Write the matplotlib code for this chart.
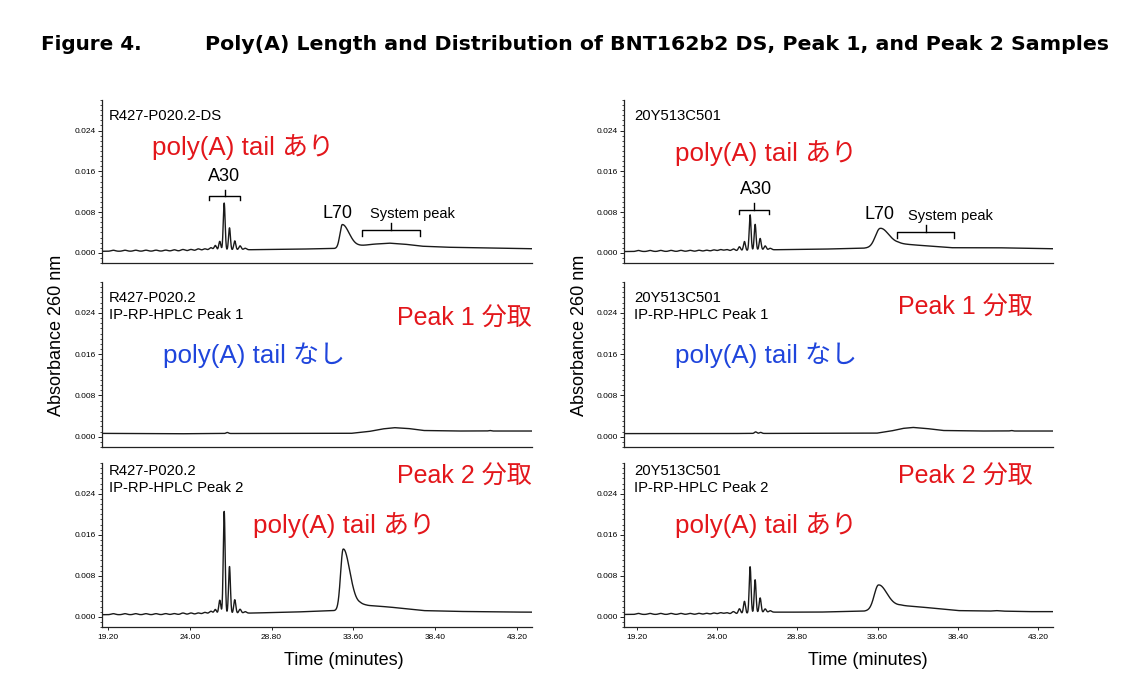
import numpy as np
import matplotlib
matplotlib.use("Agg")
import matplotlib.pyplot as plt
from matplotlib.ticker import MultipleLocator, FixedLocator

plt.rcParams['font.family'] = ['Liberation Sans', 'Noto Sans CJK JP', 'DejaVu Sans']

W, H, DPI = 1137, 697, 100

# ---------------- data ----------------
X_TICKS = [19.20, 24.00, 28.80, 33.60, 38.40, 43.20]
Y_TICKS = [0.000, 0.008, 0.016, 0.024]

# poly(A) ladder peak times (min)
LEFT_LADDER_T = [19.51, 20.20, 20.83, 21.43, 22.02, 22.59, 23.09, 23.60, 24.07, 24.50,
                 24.89, 25.24, 25.50, 25.76, 26.02, 26.33, 26.64, 26.95, 27.25]
RIGHT_LADDER_T = [19.28, 19.98, 20.62, 21.24, 21.83, 22.37, 22.91, 23.37, 23.81, 24.21,
                  24.57, 24.97, 25.33, 25.63, 25.97, 26.27, 26.57, 26.87, 27.17]
LADDER_SIGMA = [0.12] * 11 + [0.10, 0.07, 0.06, 0.055, 0.055, 0.06, 0.07, 0.08]

# ladder heights above baseline (AU)
R427_DS_LADDER_H = [0.0002, 0.0002, 0.0002, 0.0002, 0.0002, 0.0002, 0.00025, 0.0003, 0.0003, 0.0004,
                    0.0004, 0.0006, 0.0010, 0.0018, 0.0093, 0.0044, 0.0018, 0.0008, 0.0003]
R427_P2_LADDER_H = [0.0002, 0.0002, 0.0002, 0.0002, 0.0002, 0.0002, 0.0002, 0.0003, 0.0003, 0.0003,
                    0.0004, 0.0006, 0.0009, 0.0027, 0.0200, 0.0092, 0.0027, 0.0008, 0.0003]
Y20_DS_LADDER_H = [0.0002, 0.0002, 0.0002, 0.0002, 0.0002, 0.0002, 0.0002, 0.0002, 0.00025, 0.0003,
                   0.0003, 0.0004, 0.0008, 0.0018, 0.0070, 0.0051, 0.0023, 0.0008, 0.0003]
Y20_P2_LADDER_H = [0.0002, 0.0002, 0.0002, 0.0002, 0.0002, 0.0002, 0.0002, 0.0002, 0.00025, 0.0003,
                   0.0003, 0.0005, 0.0010, 0.0024, 0.0091, 0.0065, 0.0029, 0.0007, 0.0003]

# small bumps in the Peak 1 fractions
R427_P1_BUMP_T = [26.20, 41.60]
R427_P1_BUMP_H = [0.0002, 0.0001]
Y20_P1_BUMP_T = [26.30, 26.60, 41.60]
Y20_P1_BUMP_H = [0.0003, 0.0002, 0.0001]

# L70 peak: order R427 DS, 20Y DS, R427 Peak 2, 20Y Peak 2
L70_T = [32.95, 33.75, 33.00, 33.65]
L70_H = [0.0046, 0.0036, 0.0118, 0.0047]
L70_SL = [0.14, 0.28, 0.15, 0.25]
L70_SR = [0.40, 0.50, 0.38, 0.50]

# baselines (time, absorbance)
R427_DS_BASE_T = [18.85, 22.0, 25.0, 27.3, 30.0, 32.5, 33.2, 33.9, 34.8, 35.7, 36.6, 37.6, 39.0, 40.8, 42.5, 44.1]
R427_DS_BASE_Y = [0.00030, 0.00032, 0.00038, 0.00060, 0.00070, 0.00085, 0.00100, 0.00135, 0.00170, 0.00190,
                  0.00170, 0.00130, 0.00110, 0.00100, 0.00090, 0.00080]
Y20_DS_BASE_T = [18.42, 22.0, 25.0, 27.3, 30.0, 32.75, 33.75, 34.85, 36.0, 38.0, 40.6, 42.5, 44.1]
Y20_DS_BASE_Y = [0.00025, 0.00028, 0.00035, 0.00060, 0.00070, 0.00090, 0.00120, 0.00180, 0.00150,
                 0.00100, 0.00100, 0.00090, 0.00080]
R427_P1_BASE_T = [18.85, 21.0, 23.0, 25.0, 28.0, 31.0, 33.5, 34.5, 35.3, 36.0, 36.8, 37.7, 39.5, 44.1]
R427_P1_BASE_Y = [0.00064, 0.00060, 0.00056, 0.00060, 0.00064, 0.00064, 0.00066, 0.00100, 0.00150, 0.00175,
                  0.00160, 0.00120, 0.00110, 0.00110]
Y20_P1_BASE_T = [18.42, 21.0, 23.0, 25.0, 28.0, 31.0, 33.5, 34.4, 35.1, 35.7, 36.5, 37.5, 39.5, 44.1]
Y20_P1_BASE_Y = [0.00060, 0.00060, 0.00060, 0.00062, 0.00064, 0.00064, 0.00066, 0.00110, 0.00160, 0.00180,
                 0.00160, 0.00120, 0.00110, 0.00110]
R427_P2_BASE_T = [18.85, 22.0, 25.0, 27.3, 30.0, 32.5, 33.0, 33.6, 34.0, 34.5, 35.7, 37.7, 39.5, 40.7, 42.5, 44.1]
R427_P2_BASE_Y = [0.00040, 0.00040, 0.00045, 0.00070, 0.00090, 0.00120, 0.00140, 0.00220, 0.00250, 0.00220,
                  0.00190, 0.00120, 0.00105, 0.00100, 0.00092, 0.00090]
Y20_P2_BASE_T = [18.42, 22.0, 25.0, 27.3, 30.0, 32.8, 33.65, 35.0, 36.2, 38.4, 40.3, 40.7, 41.1, 42.5, 44.1]
Y20_P2_BASE_Y = [0.00045, 0.00045, 0.00050, 0.00090, 0.00090, 0.00110, 0.00150, 0.00220, 0.00190, 0.00120,
                 0.00110, 0.00120, 0.00110, 0.00100, 0.00100]

# annotation spans (min) and levels (AU): left column, right column
A30_SPAN = [(25.14, 26.94, 0.0112), (25.29, 27.09, 0.0085)]
A30_TEXT = [(26.00, 0.0149), (26.30, 0.0124)]
SYS_SPAN = [(34.09, 37.51, 0.0044), (34.77, 38.20, 0.0040)]
SYS_TEXT = [(37.07, 0.0077), (37.96, 0.0073)]
L70_TEXT = [(32.65, 0.0078), (33.72, 0.0076)]

# ---------------- drawing ----------------
fig = plt.figure(figsize=(W / DPI, H / DPI), dpi=DPI)

def add_ax(l, t, r, b):
    return fig.add_axes([l / W, 1 - b / H, (r - l) / W, (b - t) / H])

def ftext(px, py, s, **kw):
    return fig.text(px / W, 1 - py / H, s, **kw)

def trace(t, base_t, base_y, pk_t, pk_h, pk_sl, pk_sr):
    y = np.interp(t, base_t, base_y)
    for c, h, sl, sr in zip(pk_t, pk_h, pk_sl, pk_sr):
        s = np.where(t < c, sl, sr)
        y = y + h * np.exp(-0.5 * ((t - c) / s) ** 2)
    return y

COLS = [(102, 532, (18.85, 44.08)), (624, 1053, (18.42, 44.10))]
ROWS = [(100, 263), (282, 447), (463, 627)]

axes = {}
for ri, (top, bot) in enumerate(ROWS):
    for ci, (l, r, xl) in enumerate(COLS):
        ax = add_ax(l, top, r, bot)
        ax.set_xlim(*xl)
        ax.set_ylim(-0.002, 0.030)
        for s in ('top', 'right'):
            ax.spines[s].set_visible(False)
        for s in ('left', 'bottom'):
            ax.spines[s].set_linewidth(0.9)
            ax.spines[s].set_color('#222222')
        ax.yaxis.set_major_locator(FixedLocator(Y_TICKS))
        ax.yaxis.set_minor_locator(MultipleLocator(0.001))
        ax.set_yticklabels([f"{v:.3f}" for v in Y_TICKS])
        ax.tick_params(axis='y', which='major', direction='out', length=3, width=0.6,
                       labelsize=6, pad=1.5)
        ax.tick_params(axis='y', which='minor', direction='out', length=1.6, width=0.5)
        if ri == 2:
            ax.xaxis.set_major_locator(FixedLocator(X_TICKS))
            ax.set_xticklabels([f"{v:.2f}" for v in X_TICKS])
            ax.tick_params(axis='x', direction='out', length=2, width=0.6, labelsize=6, pad=3)
        else:
            ax.set_xticks([])
        axes[(ri, ci)] = ax

LW = 1.0
LC = '#1a1a1a'

def draw(ax, base_t, base_y, pk_t, pk_h, pk_sl, pk_sr):
    x0, x1 = ax.get_xlim()
    t = np.linspace(x0, x1, 5000)
    ax.plot(t, trace(t, base_t, base_y, pk_t, pk_h, pk_sl, pk_sr), color=LC, lw=LW)

# DS row
draw(axes[(0, 0)], R427_DS_BASE_T, R427_DS_BASE_Y,
     LEFT_LADDER_T + [L70_T[0]], R427_DS_LADDER_H + [L70_H[0]],
     LADDER_SIGMA + [L70_SL[0]], LADDER_SIGMA + [L70_SR[0]])
draw(axes[(0, 1)], Y20_DS_BASE_T, Y20_DS_BASE_Y,
     RIGHT_LADDER_T + [L70_T[1]], Y20_DS_LADDER_H + [L70_H[1]],
     LADDER_SIGMA + [L70_SL[1]], LADDER_SIGMA + [L70_SR[1]])
# Peak 1 row
draw(axes[(1, 0)], R427_P1_BASE_T, R427_P1_BASE_Y, R427_P1_BUMP_T, R427_P1_BUMP_H,
     [0.07] * len(R427_P1_BUMP_T), [0.07] * len(R427_P1_BUMP_T))
draw(axes[(1, 1)], Y20_P1_BASE_T, Y20_P1_BASE_Y, Y20_P1_BUMP_T, Y20_P1_BUMP_H,
     [0.07] * len(Y20_P1_BUMP_T), [0.07] * len(Y20_P1_BUMP_T))
# Peak 2 row
draw(axes[(2, 0)], R427_P2_BASE_T, R427_P2_BASE_Y,
     LEFT_LADDER_T + [L70_T[2]], R427_P2_LADDER_H + [L70_H[2]],
     LADDER_SIGMA + [L70_SL[2]], LADDER_SIGMA + [L70_SR[2]])
draw(axes[(2, 1)], Y20_P2_BASE_T, Y20_P2_BASE_Y,
     RIGHT_LADDER_T + [L70_T[3]], Y20_P2_LADDER_H + [L70_H[3]],
     LADDER_SIGMA + [L70_SL[3]], LADDER_SIGMA + [L70_SR[3]])

# brackets and labels on DS row
def bracket(ax, x0, x1, yh, drop, rise):
    xc = 0.5 * (x0 + x1)
    ax.plot([x0, x0, x1, x1], [yh - drop, yh, yh, yh - drop], color='k', lw=1.0)
    ax.plot([xc, xc], [yh, yh + rise], color='k', lw=1.0)

ANN_FONT = 13
for ci, ax in enumerate([axes[(0, 0)], axes[(0, 1)]]):
    a0, a1, ay = A30_SPAN[ci]
    s0, s1, sy = SYS_SPAN[ci]
    bracket(ax, a0, a1, ay, 0.0009, 0.0012)
    bracket(ax, s0, s1, sy, 0.0011, 0.0015)
    ax.text(*A30_TEXT[ci], 'A30', fontsize=ANN_FONT, ha='center', va='center')
    ax.text(*L70_TEXT[ci], 'L70', fontsize=ANN_FONT, ha='center', va='center')
    ax.text(*SYS_TEXT[ci], 'System peak', fontsize=10.5, ha='center', va='center')

# sample labels
SAMPLE_FONT = 10.7
for cx in (109, 634):
    name = 'R427-P020.2' if cx == 109 else '20Y513C501'
    ftext(cx, 116, name + ('-DS' if cx == 109 else ''), fontsize=SAMPLE_FONT, ha='left', va='center')
    ftext(cx, 297.7, name, fontsize=SAMPLE_FONT, ha='left', va='center')
    ftext(cx, 315, 'IP-RP-HPLC Peak 1', fontsize=SAMPLE_FONT, ha='left', va='center')
    ftext(cx, 470.7, name, fontsize=SAMPLE_FONT, ha='left', va='center')
    ftext(cx, 487.7, 'IP-RP-HPLC Peak 2', fontsize=SAMPLE_FONT, ha='left', va='center')

RED = '#e3161b'
BLUE = '#1f45dc'
BIG = 18.7
PK = 18.0
ftext(151.7, 146.7, 'poly(A) tail あり', color=RED, fontsize=BIG, ha='left', va='center')
ftext(675, 153.3, 'poly(A) tail あり', color=RED, fontsize=BIG, ha='left', va='center')
ftext(396.7, 318.3, 'Peak 1 分取', color=RED, fontsize=PK, ha='left', va='center')
ftext(898.3, 307.7, 'Peak 1 分取', color=RED, fontsize=PK, ha='left', va='center')
ftext(163.3, 355, 'poly(A) tail なし', color=BLUE, fontsize=BIG, ha='left', va='center')
ftext(675, 355, 'poly(A) tail なし', color=BLUE, fontsize=BIG, ha='left', va='center')
ftext(396.7, 476.7, 'Peak 2 分取', color=RED, fontsize=PK, ha='left', va='center')
ftext(898.3, 476.7, 'Peak 2 分取', color=RED, fontsize=PK, ha='left', va='center')
ftext(253.3, 525, 'poly(A) tail あり', color=RED, fontsize=BIG, ha='left', va='center')
ftext(675, 525, 'poly(A) tail あり', color=RED, fontsize=BIG, ha='left', va='center')

# axis titles
for px in (56.7, 579.7):
    ftext(px, 335.8, 'Absorbance 260 nm', fontsize=13, rotation=90, ha='center', va='center')
for px in (344.2, 868.3):
    ftext(px, 660.7, 'Time (minutes)', fontsize=13, ha='center', va='center')

# figure title
ftext(40.7, 50, 'Figure 4.', fontsize=14.4, fontweight='bold', family='DejaVu Sans',
      ha='left', va='baseline')
ftext(205, 50, 'Poly(A) Length and Distribution of BNT162b2 DS, Peak 1, and Peak 2 Samples',
      fontsize=14.75, fontweight='bold', family='DejaVu Sans', ha='left', va='baseline')

fig.savefig('out.png', dpi=DPI)
